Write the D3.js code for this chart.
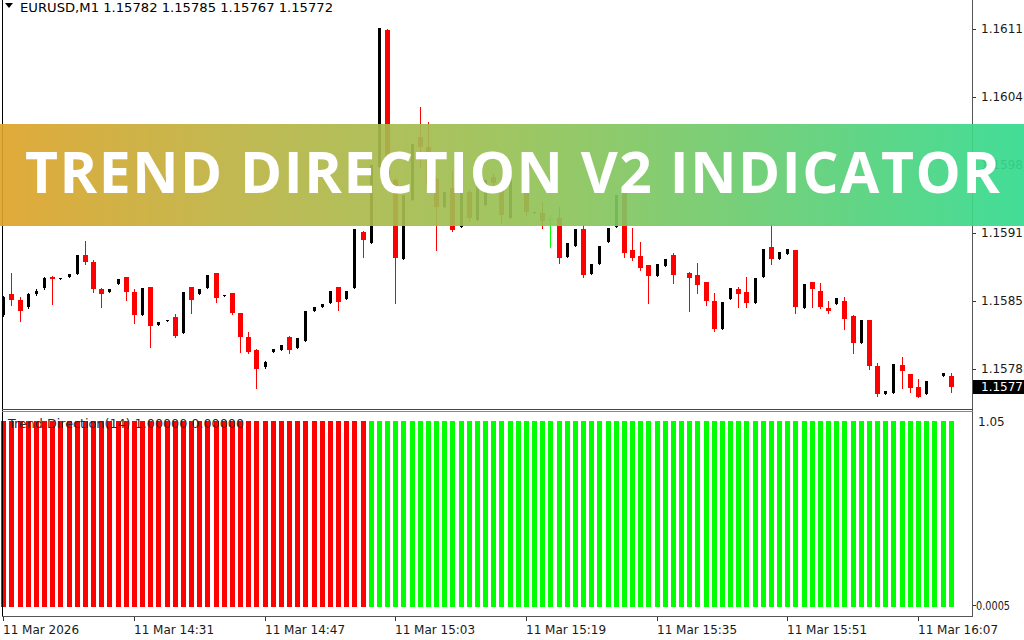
<!DOCTYPE html>
<html><head><meta charset="utf-8">
<script src="https://cdn.jsdelivr.net/npm/d3@7"></script>
<style>html,body{margin:0;padding:0;background:#fff;overflow:hidden}</style>
</head><body><svg id="c" width="1024" height="640"></svg>
<script>
// ---- data (EURUSD M1, bars from 14:15) ----
const opens = [1.15841,1.15861,1.15855,1.15848,1.15861,1.15866,1.15877,1.15875,1.15877,1.15880,
1.15898,1.15891,1.15865,1.15863,1.15870,1.15877,1.15863,1.15841,1.15867,1.15831,
1.15835,1.15839,1.15823,1.15867,1.15861,1.15866,1.15881,1.15859,1.15862,1.15843,
1.15820,1.15807,1.15791,1.15805,1.15807,1.15820,1.15809,1.15816,1.15844,1.15848,
1.15852,1.15867,1.15856,1.15866,1.15920,1.15909,1.15982,1.16113,1.15970,1.15894,
1.15951,1.16011,1.16001,1.15971,1.15944,1.15962,1.15925,1.15958,1.15931,1.15946,
1.15973,1.15965,1.15933,null,1.15972,1.15938,1.15938,1.15932,1.15933,1.15896,
1.15907,1.15923,1.15880,1.15889,1.15910,1.15925,1.15958,1.15903,1.15897,1.15888,
1.15878,1.15887,1.15898,null,1.15881,1.15879,1.15872,1.15854,1.15827,1.15856,
1.15865,1.15863,1.15852,1.15877,1.15906,1.15894,1.15899,1.15903,1.15847,1.15872,
1.15864,1.15847,1.15851,1.15854,1.15840,1.15814,1.15836,1.15792,1.15765,1.15766,
1.15793,1.15784,1.15772,1.15765,null,1.15782,1.15782];
const highs = [1.15859,1.15881,1.15858,1.15862,1.15865,1.15877,1.15878,1.15876,1.15880,1.15898,
1.15911,1.15893,1.15866,1.15865,1.15875,1.15877,1.15865,1.15866,1.15867,1.15834,
1.15836,1.15842,1.15863,1.15867,1.15865,1.15879,1.15881,1.15860,1.15862,1.15843,
1.15824,1.15808,1.15797,1.15808,1.15812,1.15821,1.15819,1.15844,1.15848,1.15851,
1.15864,1.15867,1.15864,1.15923,1.15921,1.15984,1.16115,1.16114,1.15972,1.15955,
1.16004,1.16039,1.16025,1.15973,1.15958,1.15978,1.15968,1.15960,1.15974,1.15970,
1.15975,1.15967,1.15970,null,1.15973,1.15939,1.15949,1.15936,1.15944,1.15909,
1.15923,1.15927,1.15889,1.15907,1.15924,1.15955,1.15959,1.15924,1.15910,1.15888,
1.15889,1.15894,1.15900,null,1.15882,1.15890,1.15872,1.15862,1.15853,1.15866,
1.15867,1.15877,1.15876,1.15904,1.15928,1.15901,1.15904,1.15903,1.15870,1.15872,
1.15871,1.15854,1.15857,1.15858,1.15841,1.15836,1.15836,1.15795,1.15768,1.15794,
1.15800,1.15784,1.15779,1.15778,null,1.15785,1.15785];
const lows = [1.15840,1.15850,1.15835,1.15847,1.15860,1.15865,1.15851,1.15875,1.15877,1.15880,
1.15889,1.15863,1.15848,1.15863,1.15870,1.15855,1.15833,1.15841,1.15810,1.15831,
1.15835,1.15820,1.15823,1.15843,1.15861,1.15866,1.15853,1.15859,1.15842,1.15805,
1.15804,1.15771,1.15790,1.15805,1.15807,1.15804,1.15809,1.15816,1.15844,1.15848,
1.15852,1.15845,1.15856,1.15866,1.15896,1.15909,1.15982,1.15973,1.15852,1.15894,
1.15951,1.15982,1.15963,1.15903,1.15944,1.15921,1.15925,1.15930,1.15931,1.15946,
1.15965,1.15929,1.15933,null,1.15936,1.15938,1.15924,1.15906,1.15890,1.15896,
1.15907,1.15877,1.15880,1.15889,1.15910,1.15925,1.15896,1.15893,1.15884,1.15852,
1.15878,1.15887,1.15871,null,1.15844,1.15862,1.15850,1.15825,1.15827,1.15856,
1.15848,1.15848,1.15852,1.15877,1.15889,1.15894,1.15899,1.15843,1.15847,1.15848,
1.15847,1.15843,1.15851,1.15827,1.15804,1.15814,1.15789,1.15763,1.15765,1.15766,
1.15771,1.15767,1.15762,1.15765,null,1.15782,1.15767];
const closes = [1.15858,1.15855,1.15844,1.15861,1.15864,1.15876,1.15875,1.15876,1.15880,1.15898,
1.15891,1.15865,1.15861,1.15865,1.15875,1.15863,1.15841,1.15866,1.15830,1.15834,
1.15836,1.15821,1.15863,1.15855,1.15865,1.15879,1.15857,1.15860,1.15843,1.15820,
1.15805,1.15789,1.15796,1.15808,1.15812,1.15807,1.15819,1.15844,1.15848,1.15851,
1.15864,1.15853,1.15864,1.15923,1.15912,1.15984,1.16115,1.15973,1.15895,1.15955,
1.16004,1.16001,1.15965,1.15944,1.15958,1.15922,1.15968,1.15933,1.15974,1.15970,
1.15967,1.15936,1.15970,null,1.15939,1.15939,1.15930,1.15932,1.15895,1.15909,
1.15923,1.15879,1.15889,1.15907,1.15924,1.15955,1.15900,1.15895,1.15886,1.15878,
1.15889,1.15894,1.15879,null,1.15876,1.15869,1.15854,1.15827,1.15853,1.15866,
1.15861,1.15852,1.15876,1.15904,1.15894,1.15901,1.15904,1.15848,1.15870,1.15865,
1.15848,1.15844,1.15857,1.15837,1.15814,1.15836,1.15792,1.15765,1.15768,1.15794,
1.15787,1.15771,1.15762,1.15778,null,1.15785,1.15772];
// Trend Direction(14) buffers: down (red) and up (green)
const trendDown = [1,1,1,1,1,1,1,1,1,1, 1,1,1,1,1,1,1,1,1,1, 1,1,1,1,1,1,1,1,1,1,
1,1,1,1,1,1,1,1,1,1, 1,1,1,1,1,0,0,0,0,0, 0,0,0,0,0,0,0,0,0,0, 0,0,0,0,0,0,0,0,0,0,
0,0,0,0,0,0,0,0,0,0, 0,0,0,0,0,0,0,0,0,0, 0,0,0,0,0,0,0,0,0,0, 0,0,0,0,0,0,0,0,0,0, 0,0,0,0,0,0,0];
const trendUp = [0,0,0,0,0,0,0,0,0,0, 0,0,0,0,0,0,0,0,0,0, 0,0,0,0,0,0,0,0,0,0,
0,0,0,0,0,0,0,0,0,0, 0,0,0,0,0,1,1,1,1,1, 1,1,1,1,1,1,1,1,1,1, 1,1,1,1,1,1,1,1,1,1,
1,1,1,1,1,1,1,1,1,1, 1,1,1,1,1,1,1,1,1,1, 1,1,1,1,1,1,1,1,1,1, 1,1,1,1,1,1,1,1,1,1, 1,1,1,1,1,1,1];
const timeTickBars = [0,16,32,48,64,80,96,112];
const timeTickLabels = ["11 Mar 2026","11 Mar 14:31","11 Mar 14:47","11 Mar 15:03","11 Mar 15:19","11 Mar 15:35","11 Mar 15:51","11 Mar 16:07"];
const priceTicks = [1.16114,1.16049,1.15984,1.15919,1.15854,1.15789];
const priceTickLabels = ["1.1611","1.1604","1.1598","1.1591","1.1585","1.1578"];
const currentPriceLabel = "1.1577";
const indTickLabels = ["1.05", "0.0005"];
const headerText = "EURUSD,M1  1.15782 1.15785 1.15767 1.15772";
const indicatorText = "Trend Direction(14) 1.00000 0.00000";
const bannerText = "TREND DIRECTION V2 INDICATOR";

// ---- drawing ----
const svg = d3.select("#c");
const font = "'DejaVu Sans', Verdana, sans-serif";
const x = d3.scaleLinear().domain([0, 112]).range([3.3, 918]);
const y = d3.scaleLinear().domain([1.15789, 1.16114]).range([369, 29]);
const yi = d3.scaleLinear().domain([0, 1.05]).range([607, 412]);

const bars = d3.range(opens.length).map(i => ({i, o: opens[i], h: highs[i], l: lows[i], c: closes[i]})).filter(d => d.o !== null);
const colorOf = d => d.c > d.o ? "#000000" : (d.c < d.o ? "#ff0000" : "#00ff00");

const main = svg.append("g");
main.selectAll("line.w").data(bars).join("line")
  .attr("x1", d => Math.round(x(d.i)) + 0.5).attr("x2", d => Math.round(x(d.i)) + 0.5)
  .attr("y1", d => Math.round(y(d.h))).attr("y2", d => Math.round(y(d.l)) + 1)
  .attr("stroke", colorOf).attr("stroke-width", 1).attr("shape-rendering", "crispEdges");
main.selectAll("rect.b").data(bars.filter(d => d.c !== d.o)).join("rect")
  .attr("x", d => Math.round(x(d.i)) - (d.c > d.o ? 1 : 2))
  .attr("width", d => d.c > d.o ? 3 : 5)
  .attr("y", d => Math.round(y(Math.max(d.o, d.c))))
  .attr("height", d => Math.max(1, Math.round(y(Math.min(d.o, d.c))) - Math.round(y(Math.max(d.o, d.c)))))
  .attr("fill", colorOf).attr("shape-rendering", "crispEdges");
main.selectAll("line.d").data(bars.filter(d => d.c === d.o)).join("line")
  .attr("x1", d => Math.round(x(d.i)) - 2).attr("x2", d => Math.round(x(d.i)) + 3)
  .attr("y1", d => Math.round(y(d.o)) + 0.5).attr("y2", d => Math.round(y(d.o)) + 0.5)
  .attr("stroke", "#00ff00").attr("shape-rendering", "crispEdges");

// indicator histogram
const ind = svg.append("g");
ind.selectAll("rect.dn").data(trendDown.map((v, i) => ({i, v})).filter(d => d.v > 0)).join("rect")
  .attr("x", d => Math.round(x(d.i)) - 2).attr("width", 5)
  .attr("y", d => Math.round(yi(d.v))).attr("height", d => Math.round(yi(0)) - Math.round(yi(d.v)))
  .attr("fill", "#ff0000").attr("shape-rendering", "crispEdges");
ind.selectAll("rect.up").data(trendUp.map((v, i) => ({i, v})).filter(d => d.v > 0)).join("rect")
  .attr("x", d => Math.round(x(d.i)) - 2).attr("width", 5)
  .attr("y", d => Math.round(yi(d.v))).attr("height", d => Math.round(yi(0)) - Math.round(yi(d.v)))
  .attr("fill", "#00ff00").attr("shape-rendering", "crispEdges");

// frames
const frame = svg.append("g").attr("shape-rendering", "crispEdges").attr("fill", "none");
frame.append("line").attr("x1", 2.5).attr("x2", 2.5).attr("y1", 0).attr("y2", 616).attr("stroke", "#000");
frame.append("line").attr("x1", 972.5).attr("x2", 972.5).attr("y1", 0).attr("y2", 616).attr("stroke", "#555");
frame.append("line").attr("x1", 2).attr("x2", 973).attr("y1", 409.5).attr("y2", 409.5).attr("stroke", "#444");
frame.append("line").attr("x1", 2).attr("x2", 973).attr("y1", 411.5).attr("y2", 411.5).attr("stroke", "#888");
frame.append("line").attr("x1", 2).attr("x2", 973).attr("y1", 616.5).attr("y2", 616.5).attr("stroke", "#555");

// price axis
const pa = svg.append("g").attr("font-family", font).attr("font-size", 12).attr("fill", "#1a1a1a");
priceTicks.forEach((p, k) => {
  pa.append("line").attr("x1", 973).attr("x2", 976).attr("y1", Math.round(y(p)) + 0.5).attr("y2", Math.round(y(p)) + 0.5)
    .attr("stroke", "#333").attr("shape-rendering", "crispEdges");
  pa.append("text").attr("x", 981).attr("y", y(p)).attr("dy", "0.36em").text(priceTickLabels[k]);
});
const last = closes[closes.length - 1];
svg.append("rect").attr("x", 973).attr("y", Math.round(y(last)) - 7).attr("width", 51).attr("height", 14).attr("fill", "#000");
svg.append("text").attr("x", 981).attr("y", y(last)).attr("dy", "0.36em").attr("font-family", font).attr("font-size", 12)
  .attr("fill", "#fff").text(currentPriceLabel);

// indicator axis
const ia = svg.append("g").attr("font-family", font).attr("font-size", 12).attr("fill", "#1a1a1a");
ia.append("text").attr("x", 978).attr("y", 422).attr("dy", "0.36em").text(indTickLabels[0]);
ia.append("text").attr("x", 976).attr("y", 606).attr("dy", "0.36em").attr("textLength", 34).attr("lengthAdjust", "spacingAndGlyphs").text(indTickLabels[1]);
ia.append("line").attr("x1", 973).attr("x2", 976).attr("y1", 605.5).attr("y2", 605.5).attr("stroke", "#333");

// time axis
const ta = svg.append("g").attr("font-family", font).attr("font-size", 12).attr("fill", "#1a1a1a");
timeTickBars.forEach((b, k) => {
  const tx = Math.round(x(b)) + 0.5;
  ta.append("line").attr("x1", tx).attr("x2", tx).attr("y1", 617).attr("y2", 621).attr("stroke", "#333").attr("shape-rendering", "crispEdges");
  ta.append("text").attr("x", tx - 0.5).attr("y", 630).attr("dy", "0.36em").text(timeTickLabels[k]);
});

// header
svg.append("path").attr("d", "M5,3 L13,3 L9,8 Z").attr("fill", "#000");
svg.append("text").attr("x", 20).attr("y", 7).attr("dy", "0.36em").attr("font-family", font).attr("font-size", 12.5)
  .attr("textLength", 313).attr("lengthAdjust", "spacingAndGlyphs").attr("fill", "#000").text(headerText);
svg.append("text").attr("x", 8).attr("y", 424).attr("dy", "0.36em").attr("font-family", font).attr("font-size", 12)
  .attr("textLength", 236).attr("lengthAdjust", "spacingAndGlyphs").attr("fill", "#2a2a2a").text(indicatorText);

// banner
const defs = svg.append("defs");
const g = defs.append("linearGradient").attr("id", "bg").attr("x1", "0").attr("x2", "1").attr("y1", "0").attr("y2", "0");
[["0", "#dea329"], ["0.25", "#b9b445"], ["0.5", "#97c155"], ["0.75", "#66cd71"], ["1", "#33da8f"]]
  .forEach(([o, c]) => g.append("stop").attr("offset", o).attr("stop-color", c));
svg.append("rect").attr("x", 0).attr("y", 124).attr("width", 1024).attr("height", 102)
  .attr("fill", "url(#bg)").attr("fill-opacity", 0.92);
svg.append("text").attr("x", 25).attr("y", 193).attr("font-family", "'Open Sans', Inter, sans-serif")
  .attr("font-weight", 700).attr("font-size", 57).attr("fill", "#fff")
  .attr("textLength", 975).attr("lengthAdjust", "spacing").text(bannerText);
</script></body></html>
